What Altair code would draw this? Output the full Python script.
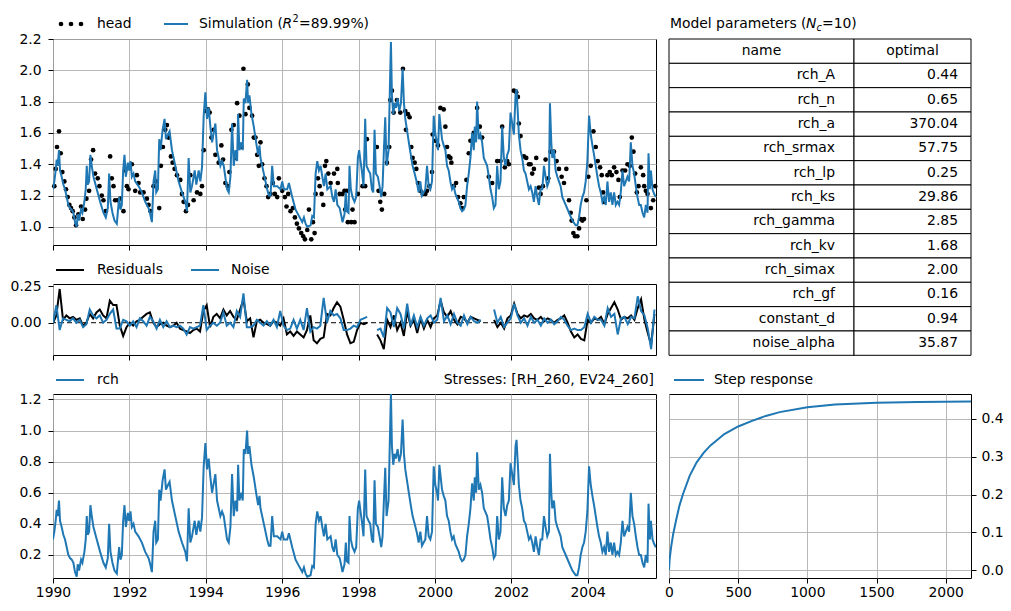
import altair as alt
import pandas as pd

FONT = "DejaVu Sans"
BLUE = "#1f77b4"
GRID = "#b0b0b0"
FS = 13.9
SUB = 9.7

# ---------------------------------------------------------------- observed heads
head_t = [
    1990.035, 1990.070, 1990.105, 1990.157, 1990.201, 1990.245, 1990.297, 1990.341, 1990.385, 1990.429,
    1990.472, 1990.516, 1990.560, 1990.604, 1990.665, 1990.735, 1990.779, 1990.840, 1990.875, 1990.945,
    1990.997, 1991.050, 1991.102, 1991.172, 1991.216, 1991.277, 1991.321, 1991.382, 1991.496, 1991.540,
    1991.584, 1991.627, 1991.697, 1991.759, 1991.846, 1991.890, 1991.934, 1991.977, 1992.065, 1992.152,
    1992.196, 1992.240, 1992.283, 1992.371, 1992.458, 1992.502, 1992.555, 1992.633, 1992.695, 1992.782,
    1992.826, 1992.878, 1992.940, 1992.983, 1993.027, 1993.088, 1993.132, 1993.185, 1993.246, 1993.333,
    1993.377, 1993.421, 1993.482, 1993.535, 1993.596, 1993.683, 1993.771, 1993.858, 1993.902, 1993.946,
    1993.990, 1994.059, 1994.103, 1994.147, 1994.208, 1994.252, 1994.339, 1994.409, 1994.453, 1994.514,
    1994.576, 1994.619, 1994.672, 1994.733, 1994.777, 1994.821, 1994.882, 1994.934, 1994.987, 1995.039,
    1995.101, 1995.144, 1995.214, 1995.258, 1995.302, 1995.346, 1995.389, 1995.433, 1995.477, 1995.538,
    1995.591, 1995.634, 1995.696, 1995.757, 1995.809, 1995.871, 1995.914, 1996.002, 1996.072, 1996.115,
    1996.159, 1996.220, 1996.282, 1996.334, 1996.387, 1996.439, 1996.500, 1996.553, 1996.597, 1996.658,
    1996.702, 1996.763, 1996.807, 1996.850, 1996.877, 1996.938, 1996.982, 1997.034, 1997.078, 1997.122,
    1997.157, 1997.209, 1997.270, 1997.358, 1997.445, 1997.458, 1997.507, 1997.580, 1997.633, 1997.650,
    1997.694, 1997.720, 1997.808, 1997.843, 1997.895, 1997.983, 1998.105, 1998.175, 1998.219, 1998.481,
    1998.525, 1998.569, 1998.612, 1998.674, 1998.700, 1998.744, 1998.805, 1998.831, 1998.875, 1998.919,
    1999.006, 1999.094, 1999.164, 1999.225, 1999.242, 1999.295, 1999.339, 1999.382, 1999.417, 1999.470,
    1999.514, 1999.557, 1999.619, 1999.680, 1999.750, 1999.794, 1999.855, 1999.925, 1999.942, 2000.012,
    2000.082, 2000.144, 2000.231, 2000.275, 2000.318, 2000.362, 2000.406, 2000.432, 2000.493, 2000.555,
    2000.607, 2000.668, 2000.712, 2000.756, 2000.826, 2000.887, 2000.931, 2001.018, 2001.106, 2001.176,
    2001.237, 2001.412, 2001.500, 2001.631, 2001.718, 2001.762, 2001.832, 2001.894, 2001.937, 2002.068,
    2002.130, 2002.173, 2002.199, 2002.243, 2002.331, 2002.392, 2002.462, 2002.506, 2002.549, 2002.593,
    2002.654, 2002.724, 2002.768, 2002.829, 2002.899, 2002.969, 2003.031, 2003.118, 2003.188, 2003.249,
    2003.319, 2003.381, 2003.442, 2003.512, 2003.556, 2003.582, 2003.626, 2003.669, 2003.731, 2003.775,
    2003.818, 2003.862, 2003.906, 2003.967, 2004.019, 2004.081, 2004.151, 2004.212, 2004.264, 2004.326,
    2004.369, 2004.404, 2004.431, 2004.518, 2004.579, 2004.632, 2004.693, 2004.754, 2004.807, 2004.842,
    2004.912, 2004.982, 2005.043, 2005.104, 2005.157, 2005.200, 2005.244, 2005.288, 2005.332, 2005.393,
    2005.454, 2005.481, 2005.524, 2005.568, 2005.656, 2005.717, 2005.769,
]
head_v = [
    1.26, 1.37, 1.51, 1.61, 1.47, 1.35, 1.29, 1.24, 1.19, 1.14,
    1.12, 1.10, 1.06, 1.01, 1.08, 1.13, 1.05, 1.11, 1.18, 1.23,
    1.43, 1.49, 1.34, 1.31, 1.26, 1.20, 1.17, 1.10, 1.45, 1.31,
    1.26, 1.17, 1.17, 1.18, 1.10, 1.36, 1.26, 1.24, 1.40, 1.23,
    1.33, 1.28, 1.22, 1.22, 1.18, 1.14, 1.10, 1.26, 1.29, 1.12,
    1.39, 1.51, 1.62, 1.65, 1.57, 1.45, 1.41, 1.37, 1.33, 1.30,
    1.21, 1.16, 1.10, 1.14, 1.33, 1.17, 1.22, 1.21, 1.26, 1.49,
    1.74, 1.75, 1.73, 1.57, 1.62, 1.46, 1.41, 1.52, 1.43, 1.28,
    1.26, 1.35, 1.62, 1.65, 1.44, 1.79, 1.71, 1.51, 2.01, 1.72,
    1.91, 1.76, 1.71, 1.57, 1.57, 1.46, 1.39, 1.54, 1.40, 1.31,
    1.26, 1.19, 1.21, 1.28, 1.21, 1.19, 1.31, 1.23, 1.19, 1.13,
    1.21, 1.10, 1.12, 1.06, 1.02, 0.99, 0.96, 0.94, 0.92, 0.98,
    1.11, 0.92, 1.03, 0.96, 1.21, 1.31, 1.26, 1.21, 1.14, 1.39,
    1.42, 1.34, 1.28, 1.34, 1.37, 1.28, 1.21, 1.21, 1.23, 1.11,
    1.23, 1.03, 1.03, 1.11, 1.03, 1.21, 1.26, 1.26, 1.56, 1.51,
    1.23, 1.16, 1.11, 1.21, 1.51, 1.41, 1.51, 1.81, 1.87, 1.73,
    1.81, 1.73, 2.01, 1.74, 1.62, 1.72, 1.70, 1.51, 1.44, 1.41,
    1.37, 1.28, 1.23, 1.21, 1.21, 1.23, 1.26, 1.35, 1.59, 1.55,
    1.52, 1.76, 1.75, 1.64, 1.51, 1.45, 1.44, 1.41, 1.26, 1.28,
    1.19, 1.15, 1.12, 1.19, 1.30, 1.47, 1.55, 1.60, 1.76, 1.64,
    1.57, 1.32, 1.28, 1.42, 1.42, 1.64, 1.38, 1.42, 1.40, 1.87,
    1.86, 1.83, 1.66, 1.58, 1.45, 1.44, 1.40, 1.40, 1.34, 1.37,
    1.44, 1.25, 1.21, 1.26, 1.43, 1.31, 1.48, 1.48, 1.42, 1.37,
    1.32, 1.28, 1.37, 1.17, 1.09, 1.04, 0.96, 0.94, 0.94, 0.99,
    1.05, 1.04, 1.05, 1.17, 1.32, 1.39, 1.61, 1.51, 1.42, 1.38,
    1.33, 1.22, 1.16, 1.33, 1.35, 1.33, 1.38, 1.35, 1.30, 1.19,
    1.36, 1.36, 1.40, 1.39, 1.57, 1.48, 1.34, 1.22, 1.26, 1.38,
    1.33, 1.26, 1.23, 1.21, 1.12, 1.17, 1.26,
]

# ---------------------------------------------------------------- simulated head and recharge contribution
model_t = [
    # 1990
    1990.000, 1990.035, 1990.070, 1990.096, 1990.122, 1990.157, 1990.184, 1990.227, 1990.271, 1990.315,
    1990.359, 1990.402, 1990.446, 1990.490, 1990.534, 1990.577, 1990.621, 1990.647, 1990.682, 1990.735,
    1990.770, 1990.822, 1990.857, 1990.884, 1990.910, 1990.945, 1990.980,
    # 1991
    1991.015, 1991.059, 1991.146, 1991.234, 1991.321, 1991.382, 1991.435, 1991.470, 1991.505, 1991.557,
    1991.610, 1991.671, 1991.732, 1991.767, 1991.802, 1991.837, 1991.872, 1991.907, 1991.960, 1991.995,
    # 1992
    1992.030, 1992.065, 1992.109, 1992.152, 1992.240, 1992.327, 1992.415, 1992.502, 1992.546, 1992.590,
    1992.633, 1992.677, 1992.703, 1992.747, 1992.782, 1992.817, 1992.870, 1992.922, 1992.957,
    # 1993
    1993.010, 1993.053, 1993.115, 1993.202, 1993.290, 1993.377, 1993.465, 1993.508, 1993.552, 1993.596,
    1993.640, 1993.710, 1993.753, 1993.815, 1993.858, 1993.902, 1993.946, 1993.990,
    # 1994
    1994.033, 1994.077, 1994.121, 1994.165, 1994.208, 1994.252, 1994.296, 1994.383, 1994.427, 1994.471,
    1994.558, 1994.602, 1994.646, 1994.689, 1994.733, 1994.777, 1994.821, 1994.847, 1994.882, 1994.934,
    1994.969, 1994.996,
    # 1995
    1995.039, 1995.083, 1995.109, 1995.144, 1995.197, 1995.258, 1995.319, 1995.372, 1995.407, 1995.433,
    1995.521, 1995.608, 1995.652, 1995.696, 1995.739, 1995.783, 1995.871, 1995.958,
    # 1996
    1996.002, 1996.046, 1996.133, 1996.177, 1996.264, 1996.352, 1996.439, 1996.527, 1996.571, 1996.614,
    1996.658, 1996.745, 1996.789, 1996.833, 1996.877, 1996.920, 1996.964,
    # 1997
    1997.008, 1997.052, 1997.095, 1997.139, 1997.183, 1997.270, 1997.314, 1997.358, 1997.402, 1997.445,
    1997.507, 1997.550, 1997.580, 1997.633, 1997.668, 1997.694, 1997.738, 1997.764, 1997.799, 1997.843,
    1997.895, 1997.939, 1997.983,
    # 1998
    1998.017, 1998.052, 1998.087, 1998.131, 1998.175, 1998.210, 1998.262, 1998.306, 1998.350, 1998.385,
    1998.420, 1998.455, 1998.507, 1998.551, 1998.595, 1998.630, 1998.665, 1998.700, 1998.735, 1998.787,
    1998.822, 1998.849, 1998.875, 1998.910, 1998.945, 1998.980,
    # 1999
    1999.024, 1999.067, 1999.111, 1999.155, 1999.190, 1999.225, 1999.269, 1999.330, 1999.382, 1999.417,
    1999.470, 1999.531, 1999.575, 1999.619, 1999.662, 1999.706, 1999.750, 1999.794, 1999.837, 1999.881,
    1999.925, 1999.969,
    # 2000
    2000.012, 2000.056, 2000.082, 2000.117, 2000.152, 2000.187, 2000.231, 2000.275, 2000.318, 2000.362,
    2000.406, 2000.450, 2000.493, 2000.537, 2000.625, 2000.668, 2000.712, 2000.756, 2000.800, 2000.843,
    2000.887, 2000.931, 2000.975,
    # 2001
    2001.018, 2001.045, 2001.080, 2001.106, 2001.150, 2001.193, 2001.237, 2001.281, 2001.368, 2001.412,
    2001.456, 2001.500, 2001.543, 2001.587, 2001.631, 2001.675, 2001.718, 2001.762, 2001.806, 2001.850,
    2001.894, 2001.937, 2001.981,
    # 2002
    2002.025, 2002.069, 2002.112, 2002.138, 2002.173, 2002.199, 2002.243, 2002.287, 2002.331, 2002.374,
    2002.418, 2002.462, 2002.506, 2002.549, 2002.593, 2002.637, 2002.681, 2002.724, 2002.768, 2002.812,
    2002.856, 2002.899, 2002.943, 2002.987,
    # 2003
    2003.013, 2003.048, 2003.074, 2003.118, 2003.162, 2003.206, 2003.249, 2003.293, 2003.337, 2003.425,
    2003.512, 2003.600, 2003.687, 2003.731, 2003.775, 2003.818, 2003.862, 2003.906, 2003.949, 2003.993,
    # 2004
    2004.037, 2004.081, 2004.125, 2004.168, 2004.212, 2004.256, 2004.299, 2004.343, 2004.387, 2004.431,
    2004.474, 2004.518, 2004.562, 2004.606, 2004.649, 2004.693, 2004.737, 2004.780, 2004.824, 2004.868,
    2004.912, 2004.955, 2004.999,
    # 2005
    2005.043, 2005.087, 2005.130, 2005.174, 2005.218, 2005.262, 2005.306, 2005.349, 2005.393, 2005.437,
    2005.481, 2005.524, 2005.568, 2005.594, 2005.629, 2005.656, 2005.699, 2005.743, 2005.787,
]
sim_v = [
    1.24, 1.29, 1.36, 1.43, 1.39, 1.49, 1.36, 1.32, 1.27, 1.24, 1.19, 1.14, 1.12, 1.11, 1.09, 1.03, 1.00,
    1.08, 1.04, 1.11, 1.09, 1.16, 1.24, 1.39, 1.27, 1.29, 1.46,
    1.39, 1.32, 1.24, 1.16, 1.09, 1.06, 1.12, 1.34, 1.16, 1.09, 1.04, 1.02, 1.19, 1.11, 1.14, 1.36, 1.46,
    1.32, 1.41, 1.36,
    1.42, 1.32, 1.34, 1.29, 1.26, 1.22, 1.16, 1.12, 1.08, 1.03, 1.29, 1.36, 1.22, 1.24, 1.56, 1.49, 1.62,
    1.69, 1.56,
    1.59, 1.61, 1.49, 1.39, 1.29, 1.22, 1.16, 1.10, 1.44, 1.22, 1.26, 1.36, 1.27, 1.36, 1.29, 1.38, 1.71,
    1.86,
    1.69, 1.76, 1.64, 1.54, 1.60, 1.66, 1.49, 1.39, 1.42, 1.39, 1.24, 1.22, 1.32, 1.66, 1.39, 1.49, 1.42,
    1.72, 1.49, 1.54, 1.49, 1.82,
    1.79, 1.94, 1.79, 1.84, 1.72, 1.64, 1.54, 1.46, 1.52, 1.44, 1.34, 1.24, 1.20, 1.20, 1.39, 1.26, 1.26,
    1.24,
    1.29, 1.24, 1.24, 1.28, 1.19, 1.11, 1.07, 1.03, 1.06, 1.02, 1.00, 1.01, 1.07, 1.06, 1.34, 1.42, 1.36,
    1.39, 1.32, 1.26, 1.34, 1.24, 1.26, 1.19, 1.16, 1.24, 1.14, 1.12, 1.07, 1.03, 1.08, 1.22, 1.10, 1.09,
    1.39, 1.24, 1.19, 1.16, 1.19, 1.44,
    1.49, 1.42, 1.36, 1.26, 1.69, 1.39, 1.36, 1.34, 1.24, 1.22, 1.62, 1.34, 1.32, 1.26, 1.19, 1.26, 1.49,
    1.70, 1.39, 1.49, 1.89, 2.18, 1.84, 1.72, 1.79, 1.76,
    1.82, 1.74, 1.79, 2.01, 1.79, 1.69, 1.62, 1.52, 1.44, 1.39, 1.34, 1.28, 1.22, 1.29, 1.20, 1.22, 1.24,
    1.39, 1.26, 1.24, 1.29, 1.71,
    1.59, 1.54, 1.49, 1.72, 1.64, 1.56, 1.52, 1.49, 1.39, 1.36, 1.29, 1.24, 1.26, 1.21, 1.16, 1.12, 1.10,
    1.11, 1.14, 1.26, 1.34, 1.44, 1.60,
    1.49, 1.64, 1.54, 1.80, 1.56, 1.59, 1.54, 1.44, 1.39, 1.32, 1.24, 1.19, 1.12, 1.14, 1.39, 1.24, 1.29,
    1.64, 1.44, 1.39, 1.46, 1.49, 1.73,
    1.66, 1.59, 1.84, 1.88, 1.72, 1.59, 1.49, 1.44, 1.36, 1.34, 1.29, 1.24, 1.26, 1.22, 1.16, 1.26, 1.19,
    1.14, 1.24, 1.24, 1.39, 1.32, 1.26, 1.29,
    1.79, 1.54, 1.44, 1.49, 1.36, 1.32, 1.29, 1.26, 1.19, 1.14, 1.09, 1.04, 1.01, 1.01, 1.06, 1.14, 1.19,
    1.22, 1.29, 1.42,
    1.71, 1.59, 1.52, 1.46, 1.39, 1.32, 1.26, 1.22, 1.16, 1.19, 1.14, 1.29, 1.16, 1.22, 1.14, 1.22, 1.14,
    1.16, 1.14, 1.22, 1.36, 1.26, 1.29,
    1.32, 1.29, 1.54, 1.39, 1.34, 1.26, 1.19, 1.14, 1.14, 1.09, 1.06, 1.14, 1.09, 1.47, 1.24, 1.36, 1.24,
    1.21, 1.19,
]
rch_v = [
    0.30, 0.35, 0.42, 0.49, 0.45, 0.55, 0.42, 0.38, 0.33, 0.30, 0.25, 0.20, 0.18, 0.17, 0.15, 0.09, 0.06,
    0.14, 0.10, 0.17, 0.15, 0.22, 0.30, 0.45, 0.33, 0.35, 0.52,
    0.45, 0.38, 0.30, 0.22, 0.15, 0.12, 0.18, 0.40, 0.22, 0.15, 0.10, 0.08, 0.25, 0.17, 0.20, 0.42, 0.52,
    0.38, 0.47, 0.42,
    0.48, 0.38, 0.40, 0.35, 0.32, 0.28, 0.22, 0.18, 0.14, 0.09, 0.35, 0.42, 0.28, 0.30, 0.62, 0.55, 0.68,
    0.75, 0.62,
    0.65, 0.67, 0.55, 0.45, 0.35, 0.28, 0.22, 0.16, 0.50, 0.28, 0.32, 0.42, 0.33, 0.42, 0.35, 0.44, 0.77,
    0.92,
    0.75, 0.82, 0.70, 0.60, 0.66, 0.72, 0.55, 0.45, 0.48, 0.45, 0.30, 0.28, 0.38, 0.72, 0.45, 0.55, 0.48,
    0.78, 0.55, 0.60, 0.55, 0.88,
    0.85, 1.00, 0.85, 0.90, 0.78, 0.70, 0.60, 0.52, 0.58, 0.50, 0.40, 0.30, 0.26, 0.26, 0.45, 0.32, 0.32,
    0.30,
    0.35, 0.30, 0.30, 0.34, 0.25, 0.17, 0.13, 0.09, 0.12, 0.08, 0.06, 0.07, 0.13, 0.12, 0.40, 0.48, 0.42,
    0.45, 0.38, 0.32, 0.40, 0.30, 0.32, 0.25, 0.22, 0.30, 0.20, 0.18, 0.13, 0.09, 0.14, 0.28, 0.16, 0.15,
    0.45, 0.30, 0.25, 0.22, 0.25, 0.50,
    0.55, 0.48, 0.42, 0.32, 0.75, 0.45, 0.42, 0.40, 0.30, 0.28, 0.68, 0.40, 0.38, 0.32, 0.25, 0.32, 0.55,
    0.76, 0.45, 0.55, 0.95, 1.24, 0.90, 0.78, 0.85, 0.82,
    0.88, 0.80, 0.85, 1.07, 0.85, 0.75, 0.68, 0.58, 0.50, 0.45, 0.40, 0.34, 0.28, 0.35, 0.26, 0.28, 0.30,
    0.45, 0.32, 0.30, 0.35, 0.77,
    0.65, 0.60, 0.55, 0.78, 0.70, 0.62, 0.58, 0.55, 0.45, 0.42, 0.35, 0.30, 0.32, 0.27, 0.22, 0.18, 0.16,
    0.17, 0.20, 0.32, 0.40, 0.50, 0.66,
    0.55, 0.70, 0.60, 0.86, 0.62, 0.65, 0.60, 0.50, 0.45, 0.38, 0.30, 0.25, 0.18, 0.20, 0.45, 0.30, 0.35,
    0.70, 0.50, 0.45, 0.52, 0.55, 0.79,
    0.72, 0.65, 0.90, 0.94, 0.78, 0.65, 0.55, 0.50, 0.42, 0.40, 0.35, 0.30, 0.32, 0.28, 0.22, 0.32, 0.25,
    0.20, 0.30, 0.30, 0.45, 0.38, 0.32, 0.35,
    0.85, 0.60, 0.50, 0.55, 0.42, 0.38, 0.35, 0.32, 0.25, 0.20, 0.15, 0.10, 0.07, 0.07, 0.12, 0.20, 0.25,
    0.28, 0.35, 0.48,
    0.77, 0.65, 0.58, 0.52, 0.45, 0.38, 0.32, 0.28, 0.22, 0.25, 0.20, 0.35, 0.22, 0.28, 0.20, 0.28, 0.20,
    0.22, 0.20, 0.28, 0.42, 0.32, 0.35,
    0.38, 0.35, 0.60, 0.45, 0.40, 0.32, 0.25, 0.20, 0.20, 0.15, 0.12, 0.20, 0.15, 0.53, 0.30, 0.42, 0.30,
    0.27, 0.25,
]

# ---------------------------------------------------------------- residuals and noise (regular sampling, None = no data)
res_start = 1990.0
res_step = 0.0875
resid_v = [
    0.00, 0.05, 0.23, 0.02, 0.05, 0.03, 0.04, 0.02, 0.03, -0.02, 0.00, 0.06, 0.03, 0.07, 0.09, 0.05,
    0.03, 0.15, 0.12, 0.12, -0.02, -0.09, -0.03, 0.00, -0.02, 0.01, 0.02, 0.04, 0.06, 0.07, 0.00, -0.03,
    -0.01, 0.00, -0.02, -0.03, -0.02, 0.00, -0.04, -0.05, -0.06, -0.07, -0.05, -0.04, -0.06, 0.08, 0.12,
    -0.03, 0.04, 0.06, 0.03, 0.09, 0.05, 0.08, 0.04, 0.02, 0.09, 0.16, 0.01, 0.03, -0.10, 0.01, 0.02,
    0.00, -0.01, -0.02, 0.01, 0.00, -0.02, 0.03, -0.08, -0.06, -0.09, -0.06, -0.08, -0.10, -0.05, 0.05,
    -0.12, -0.14, -0.11, -0.10, 0.06, 0.05, 0.10, 0.14, 0.11,
    0.02, -0.08, -0.14, -0.13, -0.05, 0.00, -0.01, 0.00, None, None, -0.08, -0.12, -0.18, 0.02, -0.03,
    0.05, -0.05, 0.00, -0.09, 0.08, -0.02, 0.02, -0.07, 0.03, -0.04, 0.02, -0.03, 0.03, 0.05, 0.15, 0.07,
    0.04, 0.08, 0.02, -0.01, 0.04, 0.03, 0.00, 0.04, 0.03, 0.02, 0.01, None, None, None, 0.02, -0.03,
    0.00, -0.04, 0.03, 0.05, 0.13, 0.06, 0.03, 0.05, 0.04, 0.06, 0.03, 0.02, 0.04, 0.01, 0.03, 0.02,
    0.00, 0.02, 0.03, 0.05, 0.00, -0.06, -0.10, -0.08, -0.11, -0.12, 0.02, 0.00, 0.03, 0.02, 0.04, -0.01,
    0.06, 0.10, 0.14, 0.09, 0.02, 0.04, 0.03, 0.05, 0.02, 0.10, 0.16, 0.02, -0.07, -0.15, 0.06,
]
noise_v = [
    0.00, 0.12, -0.05, 0.03, 0.02, 0.01, 0.03, 0.00, 0.02, -0.03, -0.01, 0.09, 0.05, 0.03, 0.05, 0.00,
    0.02, 0.06, 0.09, -0.04, -0.04, 0.02, 0.01, -0.02, 0.01, -0.03, 0.03, 0.01, -0.02, 0.04, 0.01, -0.04,
    0.02, -0.03, 0.01, -0.03, -0.02, -0.03, -0.02, -0.04, -0.08, -0.03, -0.04, -0.03, -0.02, 0.12, -0.05,
    -0.02, 0.00, -0.02, 0.00, 0.07, -0.02, 0.00, -0.03, 0.08, 0.04, 0.20, -0.03, -0.03, -0.02, 0.02, 0.00,
    -0.02, 0.01, -0.02, 0.02, -0.03, 0.08, -0.02, -0.05, -0.04, 0.02, -0.04, 0.02, -0.05, 0.10, -0.06,
    -0.03, -0.04, -0.02, 0.17, 0.00, 0.08, 0.05, 0.06, 0.03,
    -0.05, -0.05, -0.04, -0.02, -0.03, 0.02, 0.03, 0.04, None, None, -0.05, -0.04, -0.10, 0.10, 0.07,
    -0.03, 0.10, 0.06, -0.04, 0.13, -0.02, 0.05, -0.03, 0.04, -0.02, 0.03, 0.05, 0.00, 0.02, 0.17, 0.01,
    0.05, -0.01, 0.06, 0.00, -0.02, 0.05, -0.01, 0.04, 0.01, 0.00, 0.02, None, None, None, 0.09, 0.00,
    0.04, -0.03, 0.00, 0.03, 0.13, 0.05, 0.00, 0.03, -0.02, 0.04, 0.00, 0.02, -0.02, 0.03, 0.00, 0.02,
    -0.01, 0.01, 0.04, 0.02, -0.02, -0.05, -0.04, -0.05, -0.05, -0.03, 0.06, 0.00, 0.04, 0.02, 0.02, -0.02,
    0.10, 0.04, 0.06, -0.08, 0.03, 0.04, -0.01, 0.04, 0.03, 0.18, 0.08, 0.05, -0.04, -0.18, 0.09,
]

# ---------------------------------------------------------------- step response of the recharge stress
step_t = [0, 5, 15, 30, 50, 75, 100, 150, 200, 250, 300, 400, 500, 600, 700, 800, 1000, 1200, 1500, 1800, 2183]
step_v = [0.0, 0.03, 0.06, 0.095, 0.13, 0.17, 0.20, 0.25, 0.285, 0.31, 0.33, 0.36, 0.38, 0.395, 0.408, 0.418,
          0.431, 0.438, 0.443, 0.445, 0.446]

# ---------------------------------------------------------------- optimal parameters
param_names = ["rch_A", "rch_n", "rch_a", "rch_srmax", "rch_lp", "rch_ks", "rch_gamma",
               "rch_kv", "rch_simax", "rch_gf", "constant_d", "noise_alpha"]
param_opt = [0.44, 0.65, 370.04, 57.75, 0.25, 29.86, 2.85, 1.68, 2.00, 0.16, 0.94, 35.87]

# ---------------------------------------------------------------- layout
W_LEFT, W_RIGHT = 603, 302
H_TOP, H_MID, H_BOT = 206, 71, 184
LINE_W = 2.0

x_year = alt.Scale(domain=[1990, 2005.79], nice=False, zero=False)
year_ticks = [1990, 1992, 1994, 1996, 1998, 2000, 2002, 2004]


def year_axis(show_labels):
    return alt.Axis(values=year_ticks, labels=show_labels, format="d", grid=True, title=None,
                    labelFlush=False, labelPadding=2, tickSize=5)


def left_axis(vals, fmt, grid=True):
    return alt.Axis(values=vals, format=fmt, grid=grid, title=None, labelPadding=7, tickSize=5)


def single():
    return alt.Chart(pd.DataFrame({"k": [0]}))


def label(text, x, y, size=FS, style="normal", align="left"):
    return alt.Chart(pd.DataFrame({"txt": [text]})).mark_text(
        align=align, baseline="middle", font=FONT, fontSize=size, fontStyle=style, color="black"
    ).encode(text="txt:N", x=alt.value(x), y=alt.value(y))


def handle_line(x0, x1, y, color):
    return single().mark_rule(color=color, strokeWidth=LINE_W).encode(
        x=alt.value(x0), x2=alt.value(x1), y=alt.value(y))


def handle_dot(x, y):
    return single().mark_circle(color="black", size=22, opacity=1).encode(x=alt.value(x), y=alt.value(y))


# keeps the figure's top-left corner at the page origin
anchor = single().mark_square(color="white", size=1, opacity=1).encode(x=alt.value(-51.5), y=alt.value(-37.5))

# ---- heads and simulation
head_df = pd.DataFrame({"t": head_t, "h": head_v})
sim_df = pd.DataFrame({"t": model_t, "v": sim_v})
y_top = alt.Scale(domain=[0.884, 2.2], nice=False, zero=False)
top_y_axis = left_axis([1.0, 1.2, 1.4, 1.6, 1.8, 2.0, 2.2], ".1f")

top_dots = alt.Chart(head_df).mark_circle(color="black", size=22, opacity=1).encode(
    x=alt.X("t:Q", scale=x_year, axis=year_axis(False)),
    y=alt.Y("h:Q", scale=y_top, axis=top_y_axis),
)
top_sim = alt.Chart(sim_df).mark_line(color=BLUE, strokeWidth=LINE_W, clip=True).encode(
    x=alt.X("t:Q", scale=x_year, axis=year_axis(False)),
    y=alt.Y("v:Q", scale=y_top, axis=top_y_axis),
)
top = alt.layer(
    top_dots, top_sim,
    handle_dot(8, -15), handle_dot(18, -15), handle_dot(28, -15),
    label("head", 44, -15),
    handle_line(111, 135, -15, BLUE),
    label("Simulation (", 146, -15),
    label("R", 229.5, -15, style="italic"),
    label("2", 239.5, -20, size=SUB),
    label("=89.99%)", 246, -15),
    anchor,
).properties(width=W_LEFT, height=H_TOP)

# ---- residuals and noise
def gap_frame(values):
    rows, seg = [], 0
    for k, v in enumerate(values):
        if v is None:
            seg += 1
            continue
        rows.append({"t": round(res_start + res_step * k, 4), "v": v, "seg": seg})
    return pd.DataFrame(rows)


res_df = gap_frame(resid_v)
noise_df = gap_frame(noise_v)
y_mid = alt.Scale(domain=[-0.220, 0.264], nice=False, zero=False)
mid_y_axis = left_axis([0.0, 0.25], ".2f", grid=False)

zero_line = alt.Chart(pd.DataFrame({"z": [0.0]})).mark_rule(
    color="black", strokeWidth=1, strokeDash=[5, 3]
).encode(y=alt.Y("z:Q", scale=y_mid, axis=mid_y_axis))
res_line = alt.Chart(res_df).mark_line(color="black", strokeWidth=LINE_W, clip=True).encode(
    x=alt.X("t:Q", scale=x_year, axis=year_axis(False)),
    y=alt.Y("v:Q", scale=y_mid, axis=mid_y_axis),
    detail="seg:N",
)
noise_line = alt.Chart(noise_df).mark_line(color=BLUE, strokeWidth=LINE_W, clip=True).encode(
    x=alt.X("t:Q", scale=x_year, axis=year_axis(False)),
    y=alt.Y("v:Q", scale=y_mid, axis=mid_y_axis),
    detail="seg:N",
)
middle = alt.layer(
    zero_line, res_line, noise_line,
    handle_line(3, 31, -14, "black"), label("Residuals", 44, -14),
    handle_line(138, 166, -14, BLUE), label("Noise", 178, -14),
).properties(width=W_LEFT, height=H_MID)

# ---- recharge contribution
rch_df = pd.DataFrame({"t": model_t, "v": rch_v})
y_bot = alt.Scale(domain=[0.052, 1.235], nice=False, zero=False)
rch_line = alt.Chart(rch_df).mark_line(color=BLUE, strokeWidth=LINE_W, clip=True).encode(
    x=alt.X("t:Q", scale=x_year, axis=year_axis(True)),
    y=alt.Y("v:Q", scale=y_bot, axis=left_axis([0.2, 0.4, 0.6, 0.8, 1.0, 1.2], ".1f")),
)
bottom = alt.layer(
    rch_line,
    handle_line(3, 31, -14, BLUE), label("rch", 44, -14),
    label("Stresses: [RH_260, EV24_260]", 601, -14, align="right"),
).properties(width=W_LEFT, height=H_BOT)

# ---- step response
step_df = pd.DataFrame({"t": step_t, "v": step_v})
step_line = alt.Chart(step_df).mark_line(color=BLUE, strokeWidth=LINE_W, clip=True).encode(
    x=alt.X("t:Q", scale=alt.Scale(domain=[0, 2183], nice=False, zero=False),
            axis=alt.Axis(values=[0, 500, 1000, 1500, 2000], format="d", grid=True, title=None,
                          labelFlush=False, labelPadding=2, tickSize=5)),
    y=alt.Y("v:Q", scale=alt.Scale(domain=[-0.021, 0.466], nice=False, zero=False),
            axis=alt.Axis(values=[0.0, 0.1, 0.2, 0.3, 0.4], format=".1f", grid=True, title=None,
                          orient="right", labelPadding=5, tickSize=5)),
)
step = alt.layer(
    step_line,
    handle_line(5, 35, -14, BLUE), label("Step response", 45, -14),
).properties(width=W_RIGHT, height=H_BOT)

# ---- parameter table
n_rows = len(param_names) + 1
tbl_df = pd.DataFrame({
    "r0": list(range(n_rows)),
    "r1": [i + 1 for i in range(n_rows)],
    "mid": [i + 0.5 for i in range(n_rows)],
    "name": ["name"] + param_names,
    "opt": ["optimal"] + [f"{v:.2f}" for v in param_opt],
})
body_df = tbl_df.iloc[1:]
head_row = tbl_df.iloc[:1]
row_scale = alt.Scale(domain=[0, n_rows], range=[0, 316.3], nice=False, zero=False)
COL_SPLIT = 185

cells_name = alt.Chart(tbl_df).mark_rect(fill="white", stroke="black", strokeWidth=1).encode(
    x=alt.value(0), x2=alt.value(COL_SPLIT),
    y=alt.Y("r0:Q", scale=row_scale, axis=None), y2="r1:Q")
cells_opt = alt.Chart(tbl_df).mark_rect(fill="white", stroke="black", strokeWidth=1).encode(
    x=alt.value(COL_SPLIT), x2=alt.value(W_RIGHT),
    y=alt.Y("r0:Q", scale=row_scale, axis=None), y2="r1:Q")
txt_style = dict(baseline="middle", font=FONT, fontSize=FS, color="black")
names_txt = alt.Chart(body_df).mark_text(align="right", **txt_style).encode(
    x=alt.value(166), y=alt.Y("mid:Q", scale=row_scale, axis=None), text="name:N")
opt_txt = alt.Chart(body_df).mark_text(align="right", **txt_style).encode(
    x=alt.value(289), y=alt.Y("mid:Q", scale=row_scale, axis=None), text="opt:N")
hdr_name = alt.Chart(head_row).mark_text(align="center", **txt_style).encode(
    x=alt.value(COL_SPLIT / 2), y=alt.Y("mid:Q", scale=row_scale, axis=None), text="name:N")
hdr_opt = alt.Chart(head_row).mark_text(align="center", **txt_style).encode(
    x=alt.value((COL_SPLIT + W_RIGHT) / 2), y=alt.Y("mid:Q", scale=row_scale, axis=None), text="opt:N")

table = alt.layer(
    cells_name, cells_opt, names_txt, opt_txt, hdr_name, hdr_opt,
    label("Model parameters (", 1, -15),
    label("N", 137, -15, style="italic"),
    label("c", 147.5, -11, size=SUB, style="italic"),
    label("=10)", 153, -15),
).properties(width=W_RIGHT, height=H_TOP, view=alt.ViewBackground(strokeOpacity=0))

spacer = single().mark_point(opacity=0).encode(x=alt.value(0), y=alt.value(0)).properties(
    width=W_RIGHT, height=H_MID, view=alt.ViewBackground(strokeOpacity=0))

chart = alt.concat(
    top, table, middle, spacer, bottom, step,
    columns=2, spacing={"row": 39, "column": 13}, bounds="flush",
).properties(
    padding={"left": 0, "top": 0, "right": 0, "bottom": 0}
).configure_view(
    stroke="black", strokeWidth=1
).configure_axis(
    labelFont=FONT, labelFontSize=FS, labelColor="black", tickColor="black", tickWidth=1,
    domain=False, gridColor=GRID, gridWidth=0.9, gridOpacity=1,
)

chart.save("out.html", embed_options={"renderer": "svg", "actions": False})
